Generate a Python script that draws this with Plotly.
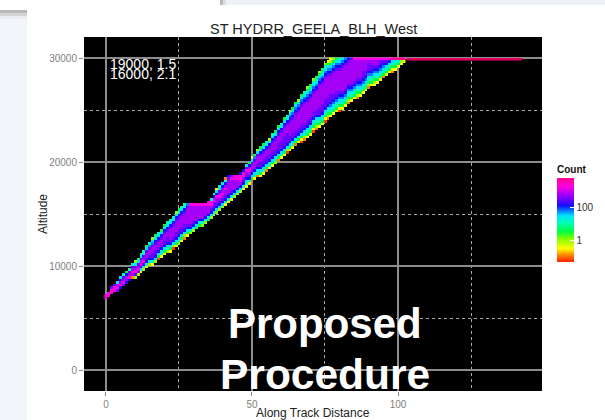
import plotly.graph_objects as go

W, H = 605, 420
PANEL = (84, 542, 37, 391)  # px left, right, top, bottom

TITLE = "ST HYDRR_GEELA_BLH_West"
X_LABEL = "Along Track Distance"
Y_LABEL = "Altitude"
NOTES = ["19000, 1.5", "16000, 2.1"]
STAMP = ["Proposed", "Procedure"]
X_TICKS = [0, 50, 100]
X_TICK_LABELS = ["0", "50", "100"]
Y_TICKS = [0, 10000, 20000, 30000]
Y_TICK_LABELS = ["0", "10000", "20000", "30000"]

# count levels, as log10(count), read against the legend
LEVEL_LOG = [-1.23, -0.92, -0.52, -0.01, 0.50, 1.01, 1.47, 1.78, 2.08, 2.44, 2.74, 3.25, 3.76]
LEGEND_TICKS = [0, 2]
LEGEND_LABELS = ["1", "100"]

# first occupied altitude row of each along-track column
COL_START = [0,1,2,3,3,4,5,6,7,8,8,9,10,11,12,13,13,14,15,16,17,18,18,19,20,21,22,23,24,25,26,27,28,28,29,
             30,31,32,33,34,35,36,37,38,39,40,41,42,43,44,45,46,47,47,48,49,50,51,52,53,54,55,56,57,58,59,60,
             60,61,62,63,64,65,66,67,68,69,70,71,72,72,73,74,75,76,77,77,78,79,80,81,82,82,83,84,85,86,87,87,
             88,89,90,91]
# count level of each cell in a column, bottom to top
COL_LEVELS = [
 "bb","bb","bb9","bb9","9ba6","8ba86","9ba95","8aa84","8ba95","1aba95","39ba963","39ba964","269ba964",
 "369ba965","2589aa964","3689aa975","25899aa9763","36899aa9864","04689aa9865","25689aa9864","246899aa9864",
 "356899aa9865","24689aaaa9865","03689aaaa9865","246899aaaa9863","356899aaaa9864","246899aaaa9865",
 "136899aaaa9865","24689aaaaaa97","3589aaaaaaab","3689aaaaaab","468aaaaaab","468aaaaab","358aaaaab",
 "368aaaab","468aaabb","3689abb6","36899ab85","3689aab862","3689aba965","3689abaa86","2589aaba851",
 "2589aaaaa98","2689aaaab9","368aaaabb","368aaabb","368abbb8","2589abb8","25689ab96","2589aba84",
 "1468aaa962","2568aaa974","15689aaa963","246899aa9864","256899aa9864","146899aa9865","256899aa9863",
 "246899aaa9865","356899aaa9864","1468999aaa9864","2568999aaa9865","24689999aaa9864","03689999aaa9865",
 "246899aaaaa98763","256899aaaaa98764","146899aaaaaa98764","246899aaaaaa98763","0246899aaaaaaa98764",
 "1356899aaaaaaa98765","2456899aaaaaaa987643","2456899aaaaaaa987654","02456899aaaaaaa987653",
 "13456899aaaaaaa987654","24568999aaaaaaaa987643","24568999aaaaaaaa987654","024568999aaaaaaaa987653",
 "134568999aaaaaaaa987642","245678999aaaaaaa9876432","24567899aaaaaaaa987643","24567899aaaaaaaa98764",
 "02456789aaaaaaaa98765","2456789aaaaaaaaa9876","2456789aaaaaaaaa987","13456789aaaaaaaa98",
 "2456789aaaaaaaaa9","2456789aaaaaaaab","13456789aaaaaaab","2456789aaaaaaab","245678999aaaab",
 "24567899aaaab","1345678999ab","24567899aab","23456789aab","2456789aab","24567899b","1456789b",
 "245689b","24568b","12456c","2456c","245c","23c","2c",
]
ROW_ALT_START = 6950
ROW_ALT_STEP = 250
ROW_COUNT = 93

# level flight tail along the top altitude
TAIL_DIST = [103, 142.5]
TAIL_ALT = [29900, 29900]

COLORSCALE = [[0, "#ff2000"], [.08, "#ff8000"], [.16, "#ffff00"], [.28, "#80ff00"], [.36, "#00ff40"],
              [.46, "#00ffb0"], [.55, "#00e5ff"], [.67, "#1010ff"], [.76, "#8000ff"], [.90, "#ff00e0"],
              [1, "#ff0090"]]

z = [[None] * len(COL_LEVELS) for _ in range(ROW_COUNT)]
for c, (start, levels) in enumerate(zip(COL_START, COL_LEVELS)):
    for i, ch in enumerate(levels):
        z[start + i][c] = LEVEL_LOG[int(ch, 16)]

fig = go.Figure()
fig.add_trace(go.Heatmap(
    x=list(range(len(COL_LEVELS))),
    y=[ROW_ALT_START + r * ROW_ALT_STEP for r in range(ROW_COUNT)],
    z=z, zmin=-1.33, zmax=3.76, colorscale=COLORSCALE, hoverongaps=False,
    colorbar=dict(
        x=557 / W, xanchor="left", xpad=0, y=1 - 212 / H, yanchor="middle", ypad=0,
        len=100, lenmode="pixels", thickness=17, thicknessmode="pixels",
        outlinewidth=0, tickvals=LEGEND_TICKS, ticktext=LEGEND_LABELS,
        ticks="inside", ticklen=4, tickcolor="white", tickwidth=1,
        tickfont=dict(family="Liberation Sans", size=10, color="#333333"),
        title=dict(text="<b>Count</b>", side="top", font=dict(family="Liberation Sans", size=10, color="#111111")),
    ),
))
fig.add_trace(go.Scatter(x=TAIL_DIST, y=TAIL_ALT, mode="lines", showlegend=False,
                         line=dict(color="#e6005f", width=2.6), hoverinfo="skip"))

axis_common = dict(
    showgrid=True, gridcolor="#8c8c8c", gridwidth=1.6, zeroline=False, showline=False,
    ticks="outside", ticklen=4, tickcolor="#8a8a8a", tickwidth=1,
    tickfont=dict(family="Liberation Sans", size=10, color="#808080"),
)
minor_x = dict(dtick=25, showgrid=True, gridcolor="#a8a8a8", griddash="3px,3px", gridwidth=1, ticks="")
minor_y = dict(dtick=5000, showgrid=True, gridcolor="#a8a8a8", griddash="3px,3px", gridwidth=1, ticks="")

fig.update_layout(
    width=W, height=H, margin=dict(l=0, r=0, t=0, b=0), paper_bgcolor="white", plot_bgcolor="black",
    showlegend=False,
    xaxis=dict(axis_common, domain=[PANEL[0] / W, PANEL[1] / W], range=[-7.5, 149.3], automargin=False,
               tickvals=X_TICKS, ticktext=X_TICK_LABELS, minor=minor_x),
    yaxis=dict(axis_common, domain=[1 - PANEL[3] / H, 1 - PANEL[2] / H], range=[-2019, 32048], automargin=False,
               tickvals=Y_TICKS, ticktext=Y_TICK_LABELS, minor=minor_y),
)


def px_text(text, x, y, size, color="#222222", bold=False, angle=0, family="Liberation Sans"):
    fig.add_annotation(text=f"<b>{text}</b>" if bold else text, xref="paper", yref="paper",
                       x=x / W, y=1 - y / H, xanchor="center", yanchor="middle", showarrow=False,
                       textangle=angle, font=dict(family=family, size=size, color=color))


px_text(TITLE, 313, 29, 14.5)
px_text(X_LABEL, 313, 413, 12)
px_text(Y_LABEL, 43, 214, 12, angle=-90)
px_text(NOTES[0], 143, 64, 14, color="white")
px_text(NOTES[1], 143, 74, 14, color="white")
px_text(STAMP[0], 325, 323, 42, color="white", bold=True)
px_text(STAMP[1], 325, 374, 42.5, color="white", bold=True)

# window chrome of the screenshot: left strip and top strip
CHROME = [(0, 27, 19, 420, "#f2f6fa"), (0, 27, 10, 13, "#b8b8b8"), (0, 27, 13, 16, "#d2d3d4"), (0, 27, 16, 19, "#e9ecef"),
          (226, 605, 0, 5, "#eef2f6"), (220, 223, 0, 5, "#b8b8b8"), (223, 226, 0, 5, "#dcdcdc")]
for x0, x1, y0, y1, col in CHROME:
    fig.add_shape(type="rect", xref="paper", yref="paper", x0=x0 / W, x1=x1 / W, y0=1 - y1 / H, y1=1 - y0 / H,
                  line_width=0, fillcolor=col, layer="below")

fig.write_html("out.html", config={"displayModeBar": False}, post_script="document.body.style.margin='0';")
